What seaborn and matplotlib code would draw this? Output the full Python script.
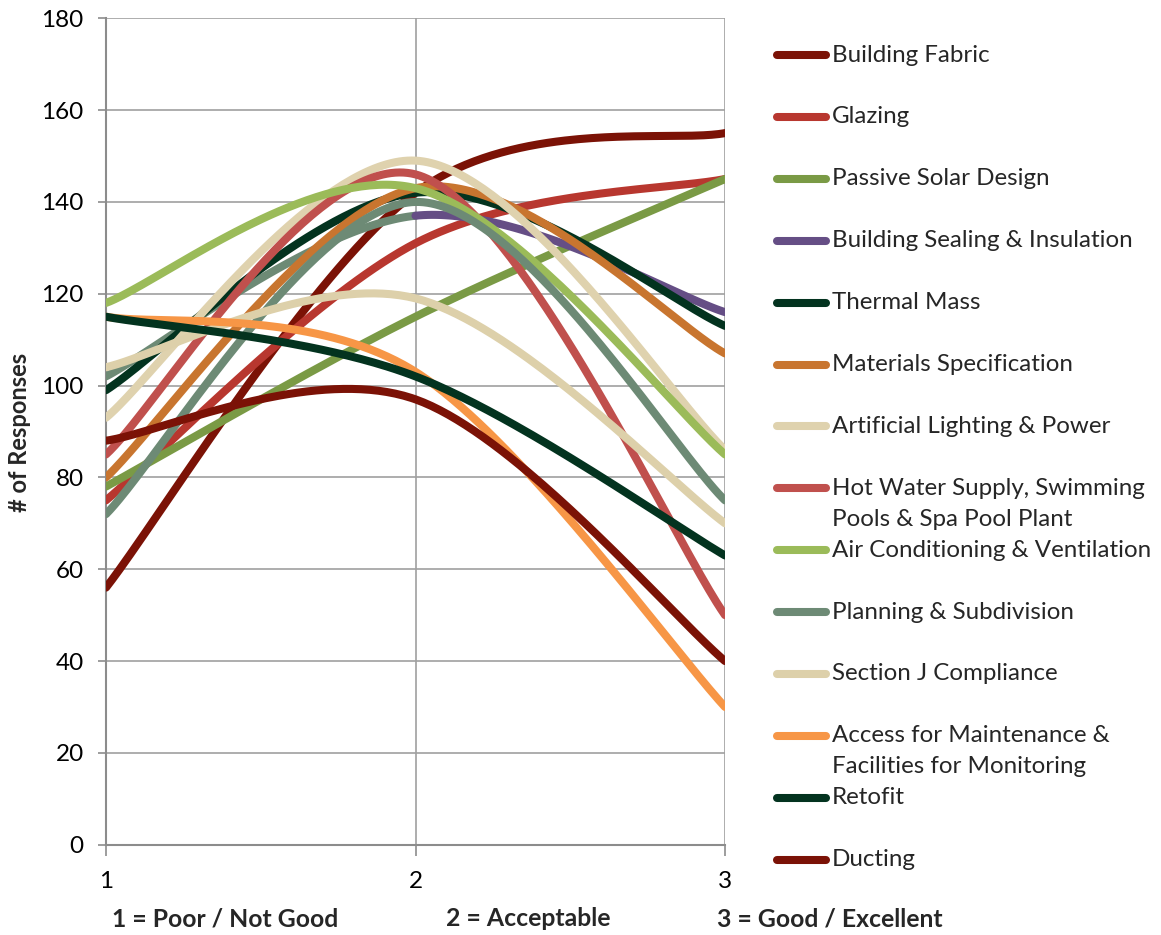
import numpy as np
import pandas as pd
import matplotlib
matplotlib.use("Agg")
import matplotlib.pyplot as plt
from matplotlib.lines import Line2D
import seaborn as sns

# ---------------- data ----------------
x_levels = [1, 2, 3]
series_names = [
    "Building Fabric", "Glazing", "Passive Solar Design", "Building Sealing & Insulation",
    "Thermal Mass", "Materials Specification", "Artificial Lighting & Power",
    "Hot Water Supply, Swimming\nPools & Spa Pool Plant", "Air Conditioning & Ventilation",
    "Planning & Subdivision", "Section J Compliance",
    "Access for Maintenance &\nFacilities for Monitoring", "Retofit", "Ducting",
]
building_fabric = [56, 142, 155]
glazing = [75, 131, 145]
passive_solar = [78, 115, 145]
building_sealing = [102, 137, 116]
thermal_mass = [99, 142, 113]
materials_spec = [80, 143, 107]
artificial_lighting = [93, 149, 86]
hot_water = [85, 146, 50]
air_conditioning = [118, 143, 85]
planning = [72, 140, 75]
section_j = [104, 119, 70]
access_maintenance = [115, 103, 30]
retofit = [115, 102, 63]
ducting = [88, 97, 40]
series_values = [building_fabric, glazing, passive_solar, building_sealing, thermal_mass,
                 materials_spec, artificial_lighting, hot_water, air_conditioning, planning,
                 section_j, access_maintenance, retofit, ducting]
x_tick_labels = ["1", "2", "3"]
scale_labels = ["1 = Poor / Not Good", "2 = Acceptable", "3 = Good / Excellent"]

# ---------------- styles ----------------
colors = ["#7B1206", "#B8372F", "#7A9A45", "#654E85", "#03331F", "#C8752F", "#DFD2AE",
          "#C0504D", "#9BBB59", "#6D8A75", "#DDD0AA", "#F79646", "#03331F", "#7B1206"]
first_segment_colors = {3: "#6D8A75"}

W, H = 1161, 935
sns.set_theme(style="white")
plt.rcParams['font.family'] = ['Lato', 'DejaVu Sans']

def excel_smooth(xs, ys, n=80):
    P = np.column_stack([np.asarray(xs, float), np.asarray(ys, float)])
    out = []
    seg_id = []
    m = len(P)
    for i in range(m - 1):
        p0 = P[i - 1] if i > 0 else P[i]
        p1 = P[i]
        p2 = P[i + 1]
        p3 = P[i + 2] if i + 2 < m else P[i + 1]
        c1 = p1 + (p2 - p0) / 6.0
        c2 = p2 - (p3 - p1) / 6.0
        t = np.linspace(0, 1, n)[:, None]
        b = ((1 - t) ** 3) * p1 + 3 * ((1 - t) ** 2) * t * c1 + 3 * (1 - t) * t ** 2 * c2 + t ** 3 * p2
        out.append(b)
        seg_id.append(np.full(n, i))
    return np.vstack(out), np.concatenate(seg_id)

fig = plt.figure(figsize=(W / 100, H / 100), dpi=100)
left_px, right_px, top_px, bottom_px = 106, 725, 18.3, 844.7
ax = fig.add_axes([left_px / W, 1 - bottom_px / H, (right_px - left_px) / W, (bottom_px - top_px) / H])

lw = 5.8
for i, (name, vals) in enumerate(zip(series_names, series_values)):
    curve, seg = excel_smooth(x_levels, vals)
    if i in first_segment_colors:
        parts = [(seg == 0, first_segment_colors[i]), (seg >= 1, colors[i])]
    else:
        parts = [(np.ones(len(seg), bool), colors[i])]
    for mask, col in parts:
        df = pd.DataFrame({"x": curve[mask, 0], "y": curve[mask, 1]})
        sns.lineplot(data=df, x="x", y="y", sort=False, estimator=None, ax=ax,
                     color=col, linewidth=lw, solid_capstyle="round", legend=False, zorder=3 + i * 0.01)

ax.set_xlim(1, 3)
ax.set_ylim(0, 180)
ax.set_yticks(np.arange(0, 181, 20))
ax.set_xticks(x_levels)
ax.set_xticklabels(x_tick_labels)
grid_col = "#A0A0A0"
ax.grid(True, color=grid_col, linewidth=1.2)
ax.set_axisbelow(True)
for s in ["top", "right"]:
    ax.spines[s].set_visible(False)
for s in ["left", "bottom"]:
    ax.spines[s].set_color("#8C8C8C")
    ax.spines[s].set_linewidth(1.5)
ax.tick_params(axis="y", direction="out", length=6, width=1.2, color="#8C8C8C", pad=10,
               labelsize=17.5, labelcolor="black", left=True)
ax.tick_params(axis="x", direction="out", length=8, width=1.2, color="#8C8C8C", pad=11,
               labelsize=17.5, labelcolor="black", bottom=True)
ax.set_xlabel("")
ax.set_ylabel("")

fig.text(20 / W, 1 - 432 / H, "# of Responses", rotation=90, ha="center", va="center",
         fontsize=17, fontweight="bold")
for lbl, cx in zip(scale_labels, [225, 528, 830]):
    fig.text(cx / W, 1 - 919 / H, lbl, ha="center", va="center", fontsize=17.8, fontweight="bold")

# legend (manual, to mimic layout)
for i, (name, col) in enumerate(zip(series_names, colors)):
    ypx = 55 + i * 61.9
    yf = 1 - ypx / H
    fig.add_artist(Line2D([777 / W, 826 / W], [yf, yf], color=col, linewidth=lw,
                          solid_capstyle="round", transform=fig.transFigure))
    for k, line in enumerate(name.split("\n")):
        fig.text(832 / W, 1 - (ypx + k * 31) / H, line, ha="left", va="center", fontsize=17.4)

fig.savefig("out.png", dpi=100)
